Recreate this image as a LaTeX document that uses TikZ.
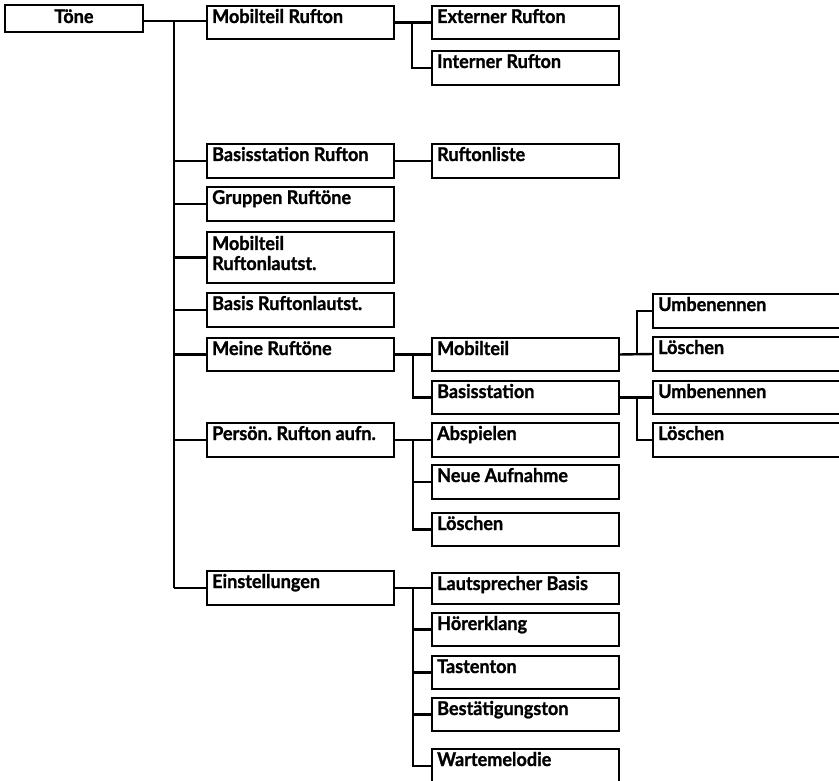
\documentclass[tikz,border=0pt]{standalone}
\usepackage{fontspec}
\setmainfont{Lato}[BoldFeatures={FakeStretch=0.95, FakeBold=1.2}]
\frenchspacing
\tikzset{
  box/.style={draw, line width=2.4pt, inner sep=0pt, outer sep=0pt},
  lbl/.style={font=\bfseries\fontsize{19}{20}\selectfont, anchor=base west, inner sep=0pt},
  conn/.style={line width=2.4pt}
}
\newcommand\mybox[6]{%
  \node[box, anchor=north west, minimum width={#4-#2}, minimum height={#5-#3}] (#1) at (#2,#3) {};
  \node[lbl] (#1-t) at ([xshift=5pt,yshift=-17pt]#1.north west) {#6};}
\begin{document}
\begin{tikzpicture}[x=1pt,y=-1pt]
\useasboundingbox (0,0) rectangle (839,781);
\clip (0,0) rectangle (839,781);
% root
\node[box, anchor=north west, minimum width=138, minimum height=27] (tone) at (5,5) {};
\node[font=\bfseries\fontsize{19}{20}\selectfont, anchor=base, inner sep=0pt] (tone-t) at ([yshift=-18pt]tone.north) {Töne};
% column 1
\mybox{mr}{207}{6}{394}{39}{Mobilteil Rufton}
\mybox{br}{207}{144}{394}{178}{Basisstation Rufton}
\mybox{gr}{207}{187}{394}{221}{Gruppen Ruftöne}
\node[box, anchor=north west, minimum width=187, minimum height=51] (mrl) at (207,232) {};
\node[lbl] (mrl-t1) at ([xshift=5pt,yshift=-18pt]mrl.north west) {Mobilteil};
\node[lbl] (mrl-t2) at ([xshift=5pt,yshift=-38pt]mrl.north west) {Ruftonlautst.};
\mybox{brl}{207}{293}{394}{327}{Basis Ruftonlautst.}
\mybox{mer}{207}{338}{394}{371}{Meine Ruftöne}
\mybox{pr}{207}{423}{394}{457}{Persön. Rufton aufn.}
\mybox{ei}{207}{571}{394}{605}{Einstellungen}
% column 2
\mybox{ext}{432}{6}{619}{39}{Externer Rufton}
\mybox{int}{432}{51}{619}{85}{Interner Rufton}
\mybox{rl}{432}{144}{619}{178}{Ruftonliste}
\mybox{mt}{432}{338}{619}{371}{Mobilteil}
\mybox{bs}{432}{381}{619}{414}{Basisstation}
\mybox{ab}{432}{423}{619}{457}{Abspielen}
\mybox{na}{432}{465}{619}{499}{Neue Aufnahme}
\mybox{lo}{432}{513}{619}{546}{Löschen}
\mybox{lb}{432}{573}{619}{604}{Lautsprecher Basis}
\mybox{hk}{432}{613}{619}{646}{Hörerklang}
\mybox{tt}{432}{656}{619}{689}{Tastenton}
\mybox{bt}{432}{698}{619}{731}{Bestätigungston}
\mybox{wm}{432}{749}{619}{800}{Wartemelodie}
% column 3
\mybox{ua}{653}{294}{880}{328}{Umbenennen}
\mybox{la}{653}{337}{880}{371}{Löschen}
\mybox{ub}{653}{381}{880}{414}{Umbenennen}
\mybox{lbb}{653}{423}{880}{457}{Löschen}
% junction coordinates
\coordinate (T) at (174,21);
\coordinate (J1) at (412,0);
\coordinate (J2) at (413,0);
\coordinate (J3) at (637,0);
% root to column 1
\draw[conn] (tone.east |- T) -- (mr.west |- T);
\draw[conn] (T) -- (T |- ei.west);
\foreach \n in {br,gr,mrl,brl,mer,pr,ei}
  \draw[conn] (T |- \n.west) -- (\n.west);
% Mobilteil Rufton
\draw[conn] (mr.east) -- (ext.west);
\draw[conn] (J1 |- ext.west) -- (J1 |- int.west) -- (int.west);
% Basisstation Rufton
\draw[conn] (br.east) -- (rl.west);
% Meine Ruftoene
\draw[conn] (mer.east) -- (mt.west);
\draw[conn] (J2 |- mt.west) -- (J2 |- bs.west) -- (bs.west);
% Mobilteil / Basisstation
\draw[conn] (mt.east) -- (la.west);
\draw[conn] (J3 |- la.west) -- (J3 |- ua.west) -- (ua.west);
\draw[conn] (bs.east) -- (ub.west);
\draw[conn] (J3 |- ub.west) -- (J3 |- lbb.west) -- (lbb.west);
% Persoen. Rufton
\draw[conn] (pr.east) -- (ab.west);
\draw[conn] (J2 |- ab.west) -- (J2 |- lo.west) -- (lo.west);
\draw[conn] (J2 |- na.west) -- (na.west);
% Einstellungen
\coordinate (wmj) at ([yshift=-17pt]wm.north west);
\draw[conn] (ei.east) -- (ei.east -| lb.west);
\draw[conn] (J2 |- ei.east) -- (J2 |- wmj) -- (wmj);
\foreach \n in {hk,tt,bt}
  \draw[conn] (J2 |- \n.west) -- (\n.west);
\end{tikzpicture}
\end{document}
